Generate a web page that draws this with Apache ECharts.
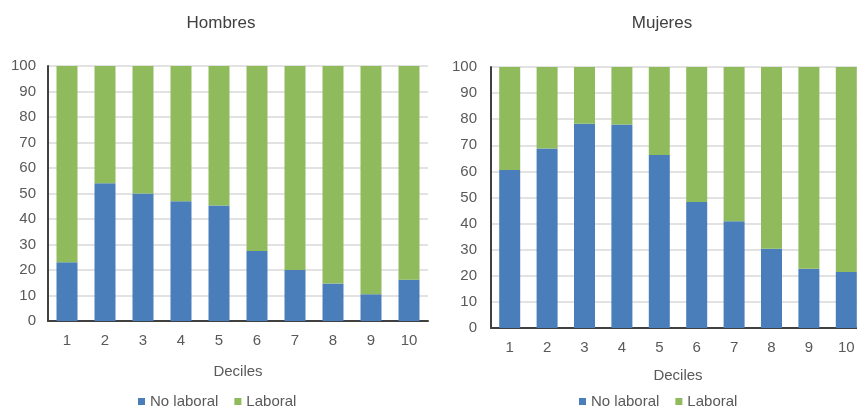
<!DOCTYPE html>
<html>
<head>
<meta charset="utf-8">
<script src="https://cdn.jsdelivr.net/npm/echarts@6/dist/echarts.min.js"></script>
<style>
  html, body { margin: 0; padding: 0; background: #fff; }
  #chart { width: 857px; height: 410px; }
</style>
</head>
<body>
<div id="chart"></div>
<script>
const deciles = ['1', '2', '3', '4', '5', '6', '7', '8', '9', '10'];
const yTicks = [0, 10, 20, 30, 40, 50, 60, 70, 80, 90, 100];

const hombresNoLaboral = [23, 54, 50, 47, 45.3, 27.5, 20, 14.7, 10.5, 16.2];
const hombresLaboral = [77, 46, 50, 53, 54.7, 72.5, 80, 85.3, 89.5, 83.8];
const mujeresNoLaboral = [60.5, 68.8, 78.3, 78, 66.3, 48.3, 40.9, 30.4, 22.7, 21.5];
const mujeresLaboral = [39.5, 31.2, 21.7, 22, 33.7, 51.7, 59.1, 69.6, 77.3, 78.5];

const FONT = 'Liberation Sans, Arial, sans-serif';
const TEXT = '#595959';
const BLUE = '#4a7ebb';
const GREEN = '#8fbb5c';

const chart = echarts.init(document.getElementById('chart'));

function xAxisFor(gridIndex, nameGap) {
  return {
    type: 'category',
    gridIndex: gridIndex,
    data: deciles,
    name: 'Deciles',
    nameLocation: 'middle',
    nameGap: nameGap,
    nameTextStyle: { color: TEXT, fontSize: 15, fontFamily: FONT },
    axisLine: { lineStyle: { color: '#404040', width: 2 } },
    axisTick: { show: false },
    axisLabel: { color: TEXT, fontSize: 15, fontFamily: FONT, margin: 12 },
  };
}

function yAxisFor(gridIndex, margin) {
  return {
    type: 'value',
    gridIndex: gridIndex,
    min: yTicks[0],
    max: yTicks[yTicks.length - 1],
    interval: 10,
    axisLine: { show: true, lineStyle: { color: '#404040', width: 2 } },
    axisTick: { show: false },
    axisLabel: { color: TEXT, fontSize: 15, fontFamily: FONT, margin: margin },
    splitLine: { lineStyle: { color: '#d9d9d9', width: 1.5 } },
  };
}

function legendAt(left) {
  return {
    top: 394,
    left: left,
    padding: 0,
    itemWidth: 7,
    itemHeight: 7,
    itemGap: 16,
    icon: 'rect',
    data: ['No laboral', 'Laboral'],
    textStyle: { color: TEXT, fontSize: 15, fontFamily: FONT },
  };
}

chart.setOption({
  animation: false,
  color: [BLUE, GREEN],
  title: [
    { text: 'Hombres', left: 216, top: 10, textAlign: 'center',
      textStyle: { color: '#404040', fontSize: 17, fontWeight: 'normal', fontFamily: FONT } },
    { text: 'Mujeres', left: 657, top: 10, textAlign: 'center',
      textStyle: { color: '#404040', fontSize: 17, fontWeight: 'normal', fontFamily: FONT } },
  ],
  legend: [legendAt(138), legendAt(579)],
  grid: [
    { left: 48, top: 66, width: 380, height: 255, outerBoundsMode: 'none' },
    { left: 491, top: 67, width: 374, height: 261, outerBoundsMode: 'none' },
  ],
  xAxis: [xAxisFor(0, 43), xAxisFor(1, 40)],
  yAxis: [yAxisFor(0, 12), yAxisFor(1, 14)],
  series: [
    { name: 'No laboral', type: 'bar', stack: 'h', xAxisIndex: 0, yAxisIndex: 0,
      barWidth: 21, data: hombresNoLaboral, itemStyle: { color: BLUE } },
    { name: 'Laboral', type: 'bar', stack: 'h', xAxisIndex: 0, yAxisIndex: 0,
      barWidth: 21, data: hombresLaboral, itemStyle: { color: GREEN } },
    { name: 'No laboral', type: 'bar', stack: 'm', xAxisIndex: 1, yAxisIndex: 1,
      barWidth: 21, data: mujeresNoLaboral, itemStyle: { color: BLUE } },
    { name: 'Laboral', type: 'bar', stack: 'm', xAxisIndex: 1, yAxisIndex: 1,
      barWidth: 21, data: mujeresLaboral, itemStyle: { color: GREEN } },
  ],
});
</script>
</body>
</html>
